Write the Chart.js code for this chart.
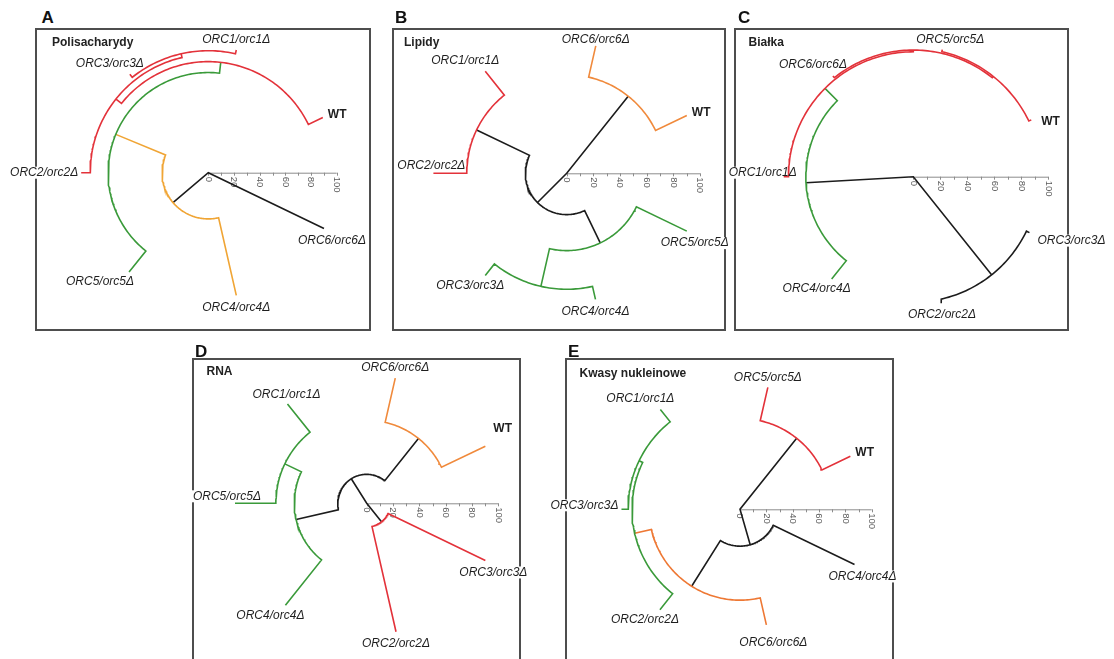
<!DOCTYPE html>
<html>
<head>
<meta charset="utf-8">
<script src="https://cdn.jsdelivr.net/npm/chart.js@4.4.1/dist/chart.umd.min.js"></script>
<style>
  html, body { margin: 0; padding: 0; background: #fff; }
  body { position: relative; width: 1114px; height: 659px; overflow: hidden;
         font-family: "Liberation Sans", Arial, sans-serif; }
  .letter { position: absolute; font-weight: bold; font-size: 17px; line-height: 1; color: #111; }
  .title  { position: absolute; font-weight: bold; font-size: 12px; line-height: 1; color: #222; white-space: nowrap; }
  canvas  { position: absolute; }
</style>
</head>
<body>
<script>
// ---------------- data: circular dendrograms (distance 0-100 from the root) ----------------
const radialTicks = [0, 20, 40, 60, 80, 100];
const radialMinorStep = 10;

// A - Polisacharydy
const leavesA   = ['WT', 'ORC1/orc1Δ', 'ORC3/orc3Δ', 'ORC2/orc2Δ', 'ORC5/orc5Δ', 'ORC4/orc4Δ', 'ORC6/orc6Δ'];
const leafDistA = [99, 98, 98, 99, 99, 98, 100];
const nodesA    = ['a1', 'a2', 'a3', 'a4', 'a5', 'rootA'];
const joinsA    = [['ORC1/orc1Δ', 'ORC3/orc3Δ'], ['a1', 'ORC2/orc2Δ'], ['WT', 'a2'],
                   ['a3', 'ORC5/orc5Δ'], ['a4', 'ORC4/orc4Δ'], ['a5', 'ORC6/orc6Δ']];
const heightsA  = [95, 92, 86.5, 78, 36, 0];

// B - Lipidy
const leavesB   = ['WT', 'ORC6/orc6Δ', 'ORC1/orc1Δ', 'ORC2/orc2Δ', 'ORC3/orc3Δ', 'ORC4/orc4Δ', 'ORC5/orc5Δ'];
const leafDistB = [100, 98, 98, 100, 98, 97, 100];
const nodesB    = ['b1', 'b2', 'b3', 'b4', 'b5', 'rootB'];
const joinsB    = [['WT', 'ORC6/orc6Δ'], ['ORC1/orc1Δ', 'ORC2/orc2Δ'], ['ORC3/orc3Δ', 'ORC4/orc4Δ'],
                   ['b3', 'ORC5/orc5Δ'], ['b2', 'b4'], ['b1', 'b5']];
const heightsB  = [74, 75, 87, 58, 31, 0];

// C - Białka
const leavesC   = ['WT', 'ORC5/orc5Δ', 'ORC6/orc6Δ', 'ORC1/orc1Δ', 'ORC4/orc4Δ', 'ORC2/orc2Δ', 'ORC3/orc3Δ'];
const leafDistC = [97, 96.5, 95.5, 96, 97, 95.5, 95.5];
const nodesC    = ['c1', 'c2', 'c3', 'c4', 'c5', 'rootC'];
const joinsC    = [['WT', 'ORC5/orc5Δ'], ['c1', 'ORC6/orc6Δ'], ['c2', 'ORC1/orc1Δ'],
                   ['c3', 'ORC4/orc4Δ'], ['ORC2/orc2Δ', 'ORC3/orc3Δ'], ['c4', 'c5']];
const heightsC  = [95, 93.8, 92.5, 79.6, 93, 0];

// D - RNA
const leavesD   = ['WT', 'ORC6/orc6Δ', 'ORC1/orc1Δ', 'ORC5/orc5Δ', 'ORC4/orc4Δ', 'ORC2/orc2Δ', 'ORC3/orc3Δ'];
const leafDistD = [100, 97.5, 96.5, 100, 99, 100, 100];
const nodesD    = ['d1', 'd2', 'd3', 'd4', 'd5', 'rootD'];
const joinsD    = [['WT', 'ORC6/orc6Δ'], ['ORC1/orc1Δ', 'ORC5/orc5Δ'], ['d2', 'ORC4/orc4Δ'],
                   ['d1', 'd3'], ['ORC2/orc2Δ', 'ORC3/orc3Δ'], ['d4', 'd5']];
const heightsD  = [63, 69, 55, 22, 18, 0];

// E - Kwasy nukleinowe
const leavesE   = ['WT', 'ORC5/orc5Δ', 'ORC1/orc1Δ', 'ORC3/orc3Δ', 'ORC2/orc2Δ', 'ORC6/orc6Δ', 'ORC4/orc4Δ'];
const leafDistE = [93, 95, 97, 90, 97.5, 90, 96.5];
const nodesE    = ['e1', 'e2', 'e3', 'e4', 'e5', 'rootE'];
const joinsE    = [['WT', 'ORC5/orc5Δ'], ['ORC1/orc1Δ', 'ORC3/orc3Δ'], ['e2', 'ORC2/orc2Δ'],
                   ['e3', 'ORC6/orc6Δ'], ['e4', 'ORC4/orc4Δ'], ['e1', 'e5']];
const heightsE  = [69, 85, 82, 69, 28, 0];

// ---------------- styles ----------------
const RED = '#e3323a', GREEN = '#3a9a3a', BLACK = '#1c1c1c';
const ORANGE_Y = '#f0a535', ORANGE = '#f08a3c', ORANGE_R = '#ee7834';
const coloursA = [RED, RED, RED, GREEN, ORANGE_Y, BLACK];
const coloursB = [ORANGE, RED, GREEN, GREEN, BLACK, BLACK];
const coloursC = [RED, RED, RED, GREEN, BLACK, BLACK];
const coloursD = [ORANGE, GREEN, GREEN, BLACK, RED, BLACK];
const coloursE = [RED, GREEN, GREEN, ORANGE_R, BLACK, BLACK];

// per-label nudges (px) for names placed by hand in the layout
const labelTweaks = {
  A: { 'ORC5/orc5Δ': [-14, 0] },
  B: { 'ORC2/orc2Δ': [35, -8], 'ORC6/orc6Δ': [0, 4] },
  C: { 'ORC1/orc1Δ': [16, -4], 'ORC3/orc3Δ': [34, -4], 'WT': [5, 5], 'ORC5/orc5Δ': [8, 0] },
  D: { 'ORC5/orc5Δ': [29, -7], 'WT': [3, -14], 'ORC1/orc1Δ': [19, 2] },
  E: { 'ORC6/orc6Δ': [7, 6], 'ORC3/orc3Δ': [0, -4] }
};

// ---------------- layout ----------------
const panels = [
  { id: 'A', title: 'Polisacharydy', leaves: leavesA, dist: leafDistA, nodes: nodesA, joins: joinsA, heights: heightsA,
    colours: coloursA, box: [36, 29, 370, 330], centre: [208.3, 172.7], unit: 1.284, letter: [41.5, 23.5], titleAt: [52, 46.5] },
  { id: 'B', title: 'Lipidy', leaves: leavesB, dist: leafDistB, nodes: nodesB, joins: joinsB, heights: heightsB,
    colours: coloursB, box: [393, 29, 725, 330], centre: [566.7, 173.3], unit: 1.333, letter: [395, 23], titleAt: [404, 46] },
  { id: 'C', title: 'Białka', leaves: leavesC, dist: leafDistC, nodes: nodesC, joins: joinsC, heights: heightsC,
    colours: coloursC, box: [735, 29, 1068, 330], centre: [913.3, 176.7], unit: 1.35, letter: [738, 23], titleAt: [748.5, 46] },
  { id: 'D', title: 'RNA', leaves: leavesD, dist: leafDistD, nodes: nodesD, joins: joinsD, heights: heightsD,
    colours: coloursD, box: [193, 359, 520, 720], centre: [366.7, 503.3], unit: 1.317, letter: [195, 357], titleAt: [206.5, 375.5] },
  { id: 'E', title: 'Kwasy nukleinowe', leaves: leavesE, dist: leafDistE, nodes: nodesE, joins: joinsE, heights: heightsE,
    colours: coloursE, box: [566, 359, 893, 720], centre: [740, 509.3], unit: 1.317, letter: [568, 357], titleAt: [579.5, 377] }
];

const MARGIN = 40;
const DEG = Math.PI / 180;
const SLOT = 360 / 7;
const LABEL_FONT = 'italic 12px "Liberation Sans", Arial, sans-serif';
const WT_FONT = 'bold 12px "Liberation Sans", Arial, sans-serif';

function toXY(a, r) { return { x: r * Math.cos(a * DEG), y: r * Math.sin(a * DEG) }; }

// leaf angles are evenly spaced; a node sits midway between its two children
function buildTree(p) {
  const pos = {};
  p.leaves.forEach((n, i) => { pos[n] = { a: SLOT * (i + 0.5), r: p.dist[i], leaf: true }; });
  const links = [];
  p.nodes.forEach((n, j) => {
    const c1 = pos[p.joins[j][0]], c2 = pos[p.joins[j][1]];
    pos[n] = { a: (c1.a + c2.a) / 2, r: p.heights[j] };
    links.push({ j, c1, c2, r: p.heights[j] });
  });
  return { pos, links };
}

// radial stub to child 1, arc at the node's distance, radial stub to child 2
function bracketPath(l) {
  const pts = [toXY(l.c1.a, l.c1.r), toXY(l.c1.a, l.r)];
  const span = l.c2.a - l.c1.a;
  const n = Math.max(2, Math.ceil(Math.abs(span) / 1.2));
  for (let i = 1; i < n; i++) pts.push(toXY(l.c1.a + span * i / n, l.r));
  pts.push(toXY(l.c2.a, l.r), toXY(l.c2.a, l.c2.r));
  return pts;
}

function labelBox(ctx, name, tx, ty, a, tweak) {
  ctx.font = name === 'WT' ? WT_FONT : LABEL_FONT;
  const w = ctx.measureText(name).width;
  let left, mid;
  if (a < 50)       { left = tx + 5;            mid = ty - 3; }
  else if (a < 105) { left = tx - w / 2;        mid = ty - 10; }
  else if (a < 155) { left = tx - 20 - w / 2;   mid = ty - 11; }
  else if (a < 205) { left = tx - 3 - w;        mid = ty; }
  else if (a < 255) { left = tx - 15 - w / 2;   mid = ty + 10; }
  else if (a < 310) { left = tx - w / 2;        mid = ty + 12; }
  else              { left = tx + 8 - w / 2;    mid = ty + 12; }
  if (tweak) { left += tweak[0]; mid += tweak[1]; }
  return { left, mid, w };
}

function decorPlugin(p, tree, origin) {
  let placed = null;
  function place(chart) {
    const ctx = chart.ctx, xs = chart.scales.x, ys = chart.scales.y;
    const tw = labelTweaks[p.id] || {};
    placed = p.leaves.map(name => {
      const q = tree.pos[name], xy = toXY(q.a, q.r);
      const tx = xs.getPixelForValue(xy.x), ty = ys.getPixelForValue(xy.y);
      return Object.assign({ name }, labelBox(ctx, name, tx, ty, q.a, tw[name]));
    });
  }
  return {
    id: 'dendroDecor' + p.id,
    beforeDatasetsDraw(chart) {
      const ctx = chart.ctx, xs = chart.scales.x, ys = chart.scales.y;
      place(chart);
      ctx.save();
      // panel frame
      const [bl, bt, br, bb] = p.box;
      ctx.strokeStyle = '#4e4e4e';
      ctx.lineWidth = 2;
      ctx.strokeRect(bl - origin[0], bt - origin[1], br - bl, bb - bt);
      // paper behind names that run over the frame
      ctx.fillStyle = '#fff';
      placed.forEach(l => ctx.fillRect(l.left - 1, l.mid - 6, l.w + 2, 12));
      // radial distance scale
      const y0 = ys.getPixelForValue(0);
      const xa = xs.getPixelForValue(radialTicks[0]);
      const xb = xs.getPixelForValue(radialTicks[radialTicks.length - 1]);
      ctx.strokeStyle = '#8c8c8c';
      ctx.lineWidth = 1;
      ctx.beginPath();
      ctx.moveTo(xa, y0 + 0.5); ctx.lineTo(xb, y0 + 0.5);
      for (let v = radialTicks[0]; v <= radialTicks[radialTicks.length - 1]; v += radialMinorStep) {
        const x = Math.round(xs.getPixelForValue(v)) + 0.5;
        ctx.moveTo(x, y0); ctx.lineTo(x, y0 + 3);
      }
      ctx.stroke();
      ctx.fillStyle = '#5a5a5a';
      ctx.font = '9.5px "Liberation Sans", Arial, sans-serif';
      ctx.textAlign = 'left';
      ctx.textBaseline = 'middle';
      radialTicks.forEach(v => {
        ctx.save();
        ctx.translate(xs.getPixelForValue(v), y0 + 4);
        ctx.rotate(Math.PI / 2);
        ctx.fillText(String(v), 0, 0);
        ctx.restore();
      });
      ctx.restore();
    },
    afterDatasetsDraw(chart) {
      const ctx = chart.ctx;
      ctx.save();
      ctx.fillStyle = '#1e1e1e';
      ctx.textAlign = 'left';
      ctx.textBaseline = 'middle';
      placed.forEach(l => {
        ctx.font = l.name === 'WT' ? WT_FONT : LABEL_FONT;
        ctx.fillText(l.name, l.left, l.mid);
      });
      ctx.restore();
    }
  };
}

panels.forEach(p => {
  const [bl, bt, br, bb] = p.box;
  const L = bl - MARGIN, T = bt - MARGIN;
  const W = br - bl + 2 * MARGIN, H = bb - bt + 2 * MARGIN;

  const letter = document.createElement('div');
  letter.className = 'letter';
  letter.textContent = p.id;
  letter.style.left = p.letter[0] + 'px';
  letter.style.top = (p.letter[1] - 0.85 * 17) + 'px';
  document.body.appendChild(letter);

  const canvas = document.createElement('canvas');
  canvas.width = W; canvas.height = H;
  canvas.style.left = L + 'px'; canvas.style.top = T + 'px';
  canvas.style.width = W + 'px'; canvas.style.height = H + 'px';
  document.body.appendChild(canvas);

  const title = document.createElement('div');
  title.className = 'title';
  title.textContent = p.title;
  title.style.left = p.titleAt[0] + 'px';
  title.style.top = (p.titleAt[1] - 0.85 * 12) + 'px';
  document.body.appendChild(title);

  const tree = buildTree(p);
  const cx = p.centre[0] - L, cy = p.centre[1] - T, k = p.unit;
  const datasets = tree.links.map(l => ({
    data: bracketPath(l),
    showLine: true,
    borderColor: p.colours[l.j],
    borderWidth: 1.6,
    pointRadius: 0,
    tension: 0,
    fill: false,
    borderCapStyle: 'butt',
    borderJoinStyle: 'miter'
  }));

  new Chart(canvas, {
    type: 'scatter',
    data: { datasets },
    options: {
      responsive: false,
      animation: false,
      events: [],
      devicePixelRatio: 1,
      layout: { padding: 0 },
      scales: {
        x: { type: 'linear', display: false, min: -cx / k, max: (W - cx) / k },
        y: { type: 'linear', display: false, min: -(H - cy) / k, max: cy / k }
      },
      plugins: { legend: { display: false }, tooltip: { enabled: false } }
    },
    plugins: [decorPlugin(p, tree, [L, T])]
  });
});
</script>
</body>
</html>
